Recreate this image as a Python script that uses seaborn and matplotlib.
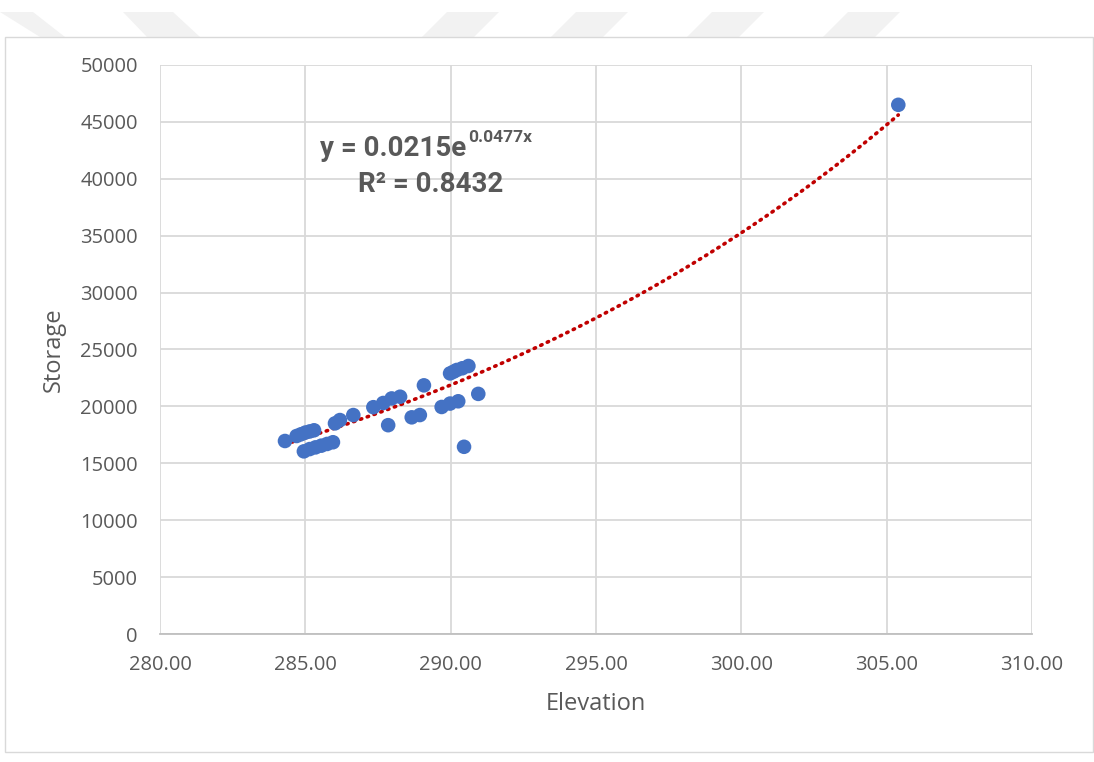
import numpy as np
import pandas as pd
import matplotlib
matplotlib.use("Agg")
import matplotlib.pyplot as plt
from matplotlib.patches import Polygon
import seaborn as sns

# values
elevation = [284.30, 284.70, 284.85, 285.00, 285.15, 285.30,
             284.95, 285.15, 285.35, 285.55, 285.75, 285.95,
             286.02, 286.19, 286.65, 287.34, 287.68, 287.97, 288.26,
             287.85, 288.66, 288.94, 289.08,
             289.69, 289.98, 290.26,
             289.98, 290.10, 290.21, 290.40, 290.61,
             290.95, 290.46, 305.40]
storage = [16960, 17400, 17550, 17700, 17800, 17900,
           16050, 16250, 16400, 16550, 16700, 16850,
           18510, 18800, 19240, 19930, 20300, 20700, 20850,
           18350, 19040, 19240, 21850,
           19950, 20250, 20450,
           22900, 23050, 23200, 23350, 23550,
           21100, 16450, 46500]

coef_a = 0.0215
coef_b = 0.0477
r2 = 0.8432

df = pd.DataFrame({"Elevation": elevation, "Storage": storage})
xs = np.linspace(min(elevation), max(elevation), 200)
trend = pd.DataFrame({"Elevation": xs, "Storage": coef_a * np.exp(coef_b * xs)})

sns.set_style("white")
plt.rcParams["font.family"] = ["Open Sans", "DejaVu Sans"]
grey = "#595959"
eq_font = ["Roboto", "DejaVu Sans"]

W, H = 1094, 762
fig = plt.figure(figsize=(W / 100, H / 100), dpi=100)


def px(x, y):
    return (x / W, 1 - y / H)


# faint watermark bands along the top edge
bands = [[(0, 12), (33, 12), (65, 37), (40, 37)],
         [(123, 12), (173, 12), (200, 37), (147, 37)]]
for s in [422, 551, 687, 823]:
    bands.append([(s, 37), (s + 52, 37), (s + 77, 12), (s + 25, 12)])
for b in bands:
    fig.patches.append(Polygon([px(*p) for p in b], closed=True, transform=fig.transFigure,
                               facecolor="#f2f2f2", edgecolor="none"))

# outer chart border
fig.patches.append(plt.Rectangle(px(5, 752), 1 - 6 / W, 715 / H,
                                 transform=fig.transFigure, fill=False,
                                 edgecolor="#d9d9d9", linewidth=1))
ax = fig.add_axes([160 / W, 1 - 634 / H, 872 / W, 569 / H])

sns.lineplot(data=trend, x="Elevation", y="Storage", ax=ax, color="#c00000",
             linewidth=2.6, linestyle=(0, (0.4, 1.6)), dash_capstyle="round", zorder=3)
sns.scatterplot(data=df, x="Elevation", y="Storage", ax=ax, color="#4472c4",
                s=110, edgecolor="none", zorder=4)

ax.set_xlim(280, 310)
ax.set_ylim(0, 50000)
ax.set_xticks(np.arange(280, 311, 5))
ax.set_xticklabels([f"{v:.2f}" for v in np.arange(280, 311, 5)])
ax.set_yticks(np.arange(0, 50001, 5000))
ax.set_yticklabels([str(v) for v in range(0, 50001, 5000)])
ax.grid(True, color="#d9d9d9", linewidth=1.3)
ax.set_axisbelow(True)
for side in ["top", "right", "left"]:
    ax.spines[side].set_visible(False)
ax.spines["bottom"].set_color("#bfbfbf")
ax.spines["bottom"].set_linewidth(1.3)
ax.tick_params(axis="y", length=0, labelsize=14.5, labelcolor=grey, pad=16)
ax.tick_params(axis="x", length=0, labelsize=14.5, labelcolor=grey, pad=15)

ax.set_xlabel("Elevation", fontsize=17, color=grey, labelpad=12)
ax.set_ylabel("Storage", fontsize=17, color=grey, labelpad=10)

eq = ax.text((320 - 160) / 872, (634 - 148) / 569, f"y = {coef_a}e", transform=ax.transAxes,
             ha="left", va="center", fontsize=20, fontweight="bold", color=grey, family=eq_font)
ax.annotate(f"{coef_b}x", xy=(1.0, 0.62), xycoords=eq, ha="left", va="bottom",
            fontsize=12.5, fontweight="bold", color=grey, family=eq_font,
            xytext=(1, 0), textcoords="offset points")
ax.text((431 - 160) / 872, (634 - 185) / 569, f"R² = {r2}", transform=ax.transAxes,
        ha="center", va="center", fontsize=20, fontweight="bold", color=grey, family=eq_font)

fig.savefig("out.png", dpi=100)
